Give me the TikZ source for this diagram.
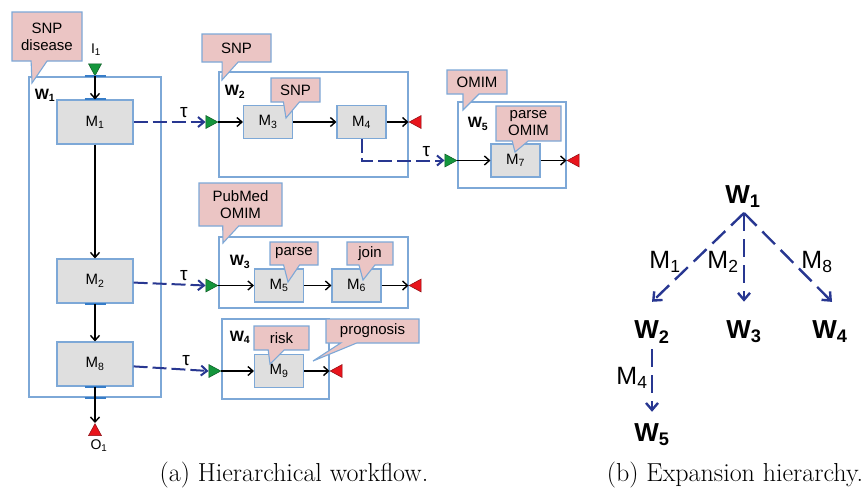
\documentclass[tikz,border=0pt]{standalone}
\usepackage{fontspec}
\setsansfont{Liberation Sans}
\usetikzlibrary{shapes.geometric,shapes.callouts,arrows.meta}
\definecolor{notepink}{RGB}{235,197,196}
\definecolor{edgeblue}{RGB}{125,168,215}
\definecolor{portblue}{RGB}{55,125,200}
\definecolor{modgray}{RGB}{223,223,223}
\definecolor{taublue}{RGB}{40,55,145}
\definecolor{ingreen}{RGB}{20,150,60}
\definecolor{outred}{RGB}{232,20,28}
\tikzset{
  wf/.style={draw=edgeblue,line width=1.1pt,inner sep=0pt},
  mod/.style={draw=edgeblue,fill=modgray,line width=1.1pt,inner sep=0pt,
    minimum width=49pt,minimum height=33pt,font=\sffamily\fontsize{15}{18}\selectfont},
  bigmod/.style={mod,minimum width=76pt,minimum height=44pt},
  note/.style={rectangle callout,draw=edgeblue,fill=notepink,line width=1.1pt,
    align=center,inner sep=0pt,callout pointer width=16pt,font=\sffamily\fontsize{15}{17}\selectfont},
  wlab/.style={inner sep=0pt,font=\sffamily\bfseries\fontsize{15}{18}\selectfont},
  iolab/.style={inner sep=0pt,font=\sffamily\fontsize{14}{16}\selectfont},
  inport/.style={isosceles triangle,isosceles triangle stretches,fill=ingreen,
    draw=ingreen!60!black,line width=0.5pt,minimum width=13pt,minimum height=12pt,inner sep=0pt},
  outport/.style={inport,fill=outred,draw=outred!60!black,shape border rotate=180},
  portmark/.style={draw=portblue,line width=2pt},
  flow/.style={-{Straight Barb[length=5pt,width=9pt]},line width=1.4pt},
  tau/.style={-{Straight Barb[length=6pt,width=10pt]},draw=taublue,line width=2pt,
    dash pattern=on 14pt off 5pt},
  taulab/.style={above,inner sep=3pt,font=\sffamily\fontsize{19}{20}\selectfont},
  hier/.style={-{Straight Barb[length=7pt,width=12pt]},draw=taublue,line width=2.4pt,
    dash pattern=on 18pt off 8pt},
  tlab/.style={inner sep=0pt,font=\sffamily\bfseries\fontsize{26}{28}\selectfont},
  mlab/.style={inner sep=0pt,font=\sffamily\fontsize{25}{26}\selectfont},
  caplab/.style={inner sep=0pt,font=\fontsize{26}{30}\selectfont}
}
\begin{document}
\begin{tikzpicture}[x=1pt,y=-1pt]
\useasboundingbox (0,0) rectangle (867,491);
% workflows
\node[wf,minimum width=132pt,minimum height=320pt] (w1) at (95,237) {};
\node[wf,minimum width=189pt,minimum height=105pt] (w2) at (313.5,124.5) {};
\node[wf,minimum width=108pt,minimum height=86pt] (w5) at (512,145) {};
\node[wf,minimum width=189pt,minimum height=71pt] (w3) at (313.5,272.5) {};
\node[wf,minimum width=107pt,minimum height=80pt] (w4) at (275.5,359) {};
\node[wlab] (lw1) at (45,95) {W\textsubscript{1}};
\node[wlab] (lw2) at (235,92) {W\textsubscript{2}};
\node[wlab] (lw5) at (478,124) {W\textsubscript{5}};
\node[wlab] (lw3) at (240,262) {W\textsubscript{3}};
\node[wlab] (lw4) at (240,337) {W\textsubscript{4}};
% modules
\node[bigmod] (m1) at (95,122) {M\textsubscript{1}};
\node[bigmod] (m2) at (95,281) {M\textsubscript{2}};
\node[bigmod] (m8) at (95,364) {M\textsubscript{8}};
\node[mod] (m3) at (268,122) {M\textsubscript{3}};
\node[mod] (m4) at (361.5,122) {M\textsubscript{4}};
\node[mod] (m7) at (515.5,160.5) {M\textsubscript{7}};
\node[mod] (m5) at (279,285.5) {M\textsubscript{5}};
\node[mod] (m6) at (356.5,285.5) {M\textsubscript{6}};
\node[mod] (m9) at (279,371) {M\textsubscript{9}};
% ports
\node[inport,shape border rotate=270,anchor=apex] (i1) at (w1.north) {};
\node[outport,shape border rotate=90,anchor=apex] (o1) at (95,423) {};
\node[iolab] (li1) at (96,50) {I\textsubscript{1}};
\node[iolab] (lo1) at (99,446) {O\textsubscript{1}};
\node[inport,anchor=apex] (i2) at (w2.west |- m3) {};
\node[outport,anchor=apex] (o2) at (w2.east |- m4) {};
\node[inport,anchor=apex] (i5) at (w5.west |- m7) {};
\node[outport,anchor=apex] (o5) at (w5.east |- m7) {};
\node[inport,anchor=apex] (i3) at (w3.west |- m5) {};
\node[outport,anchor=apex] (o3) at (w3.east |- m6) {};
\node[inport,anchor=apex] (i4) at (w4.west |- m9) {};
\node[outport,anchor=apex] (o4) at (w4.east |- m9) {};
\draw[portmark] ([xshift=-10.5pt]w1.north) -- ([xshift=10.5pt]w1.north);
\draw[portmark] ([xshift=-10.5pt]m1.north) -- ([xshift=10.5pt]m1.north);
\draw[portmark] ([xshift=-10.5pt]m2.south) -- ([xshift=10.5pt]m2.south);
\draw[portmark] ([xshift=-10.5pt]m8.south) -- ([xshift=10.5pt]m8.south);
\draw[portmark] ([xshift=-10.5pt]w1.south) -- ([xshift=10.5pt]w1.south);
% data flow
\draw[flow] (i1.apex) -- (m1);
\draw[flow] (m1) -- (m2);
\draw[flow] (m2) -- (m8);
\draw[flow] (m8) -- (o1.apex);
\draw[flow] (i2.apex) -- (m3);
\draw[flow] (m3) -- (m4);
\draw[flow] (m4) -- (o2.apex);
\draw[flow] (i5.apex) -- (m7);
\draw[flow] (m7) -- (o5.apex);
\draw[flow] (i3.apex) -- (m5);
\draw[flow] (m5) -- (m6);
\draw[flow] (m6) -- (o3.apex);
\draw[flow] (i4.apex) -- (m9);
\draw[flow] (m9) -- (o4.apex);
% expansions
\draw[tau] (m1) -- node[taulab,pos=0.7] {τ} (i2.lower side);
\draw[tau] (m2) -- node[taulab,pos=0.7] {τ} (i3.lower side);
\draw[tau] (m8) -- node[taulab,pos=0.7] {τ} (i4.lower side);
\draw[tau] (m4) |- node[taulab,pos=0.89] {τ} (i5.lower side);
% notes
\node[note,minimum width=70pt,minimum height=49pt,callout absolute pointer={(32,83)}] (n1) at (47,36.5) {SNP\\disease};
\node[note,minimum width=69pt,minimum height=28pt,callout absolute pointer={(222,80)}] (n2) at (236.5,48) {SNP};
\node[note,minimum width=49pt,minimum height=24pt,callout absolute pointer={(286,118)}] (n3) at (295.5,90) {SNP};
\node[note,minimum width=60pt,minimum height=24pt,callout absolute pointer={(463,110)}] (n5) at (477,82) {OMIM};
\node[note,minimum width=65pt,minimum height=35pt,callout absolute pointer={(515,152)}] (n7) at (528.5,123.5) {parse\\OMIM};
\node[note,minimum width=83pt,minimum height=43pt,callout absolute pointer={(223,243)}] (n4) at (240.5,204.5) {PubMed\\OMIM};
\node[note,minimum width=48pt,minimum height=23pt,callout absolute pointer={(288,282)}] (n6) at (294,253.5) {parse};
\node[note,minimum width=46pt,minimum height=23pt,callout absolute pointer={(363,280)}] (n8) at (370,253.5) {join};
\node[note,minimum width=55pt,minimum height=24pt,callout absolute pointer={(270,364)}] (n9) at (281.5,338) {risk};
\node[note,minimum width=93pt,minimum height=24pt,callout absolute pointer={(313,361)}] (n10) at (372.5,331) {prognosis};
% hierarchy
\node[tlab] (t1) at (743,197) {W\textsubscript{1}};
\node[tlab] (t2) at (652,332) {W\textsubscript{2}};
\node[tlab] (t3) at (744,332) {W\textsubscript{3}};
\node[tlab] (t4) at (830,332) {W\textsubscript{4}};
\node[tlab] (t5) at (652,435) {W\textsubscript{5}};
\coordinate (top) at (744,213);
\draw[hier] (top) -- ([yshift=19pt]t2.north);
\draw[hier] (top) -- ([yshift=19pt]t3.north);
\draw[hier] (top) -- ([yshift=19pt,xshift=2pt]t4.north);
\draw[hier] ([yshift=-6pt]t2.south) -- ([yshift=12pt]t5.north);
\node[mlab] (e1) at (665,262) {M\textsubscript{1}};
\node[mlab] (e2) at (723,262) {M\textsubscript{2}};
\node[mlab] (e8) at (817,262) {M\textsubscript{8}};
\node[mlab] (e4) at (632,378) {M\textsubscript{4}};
% captions
\node[caplab] (capa) at (294,475) {(a) Hierarchical workflow.};
\node[caplab] (capb) at (735,475) {(b) Expansion hierarchy.};
\end{tikzpicture}
\end{document}
